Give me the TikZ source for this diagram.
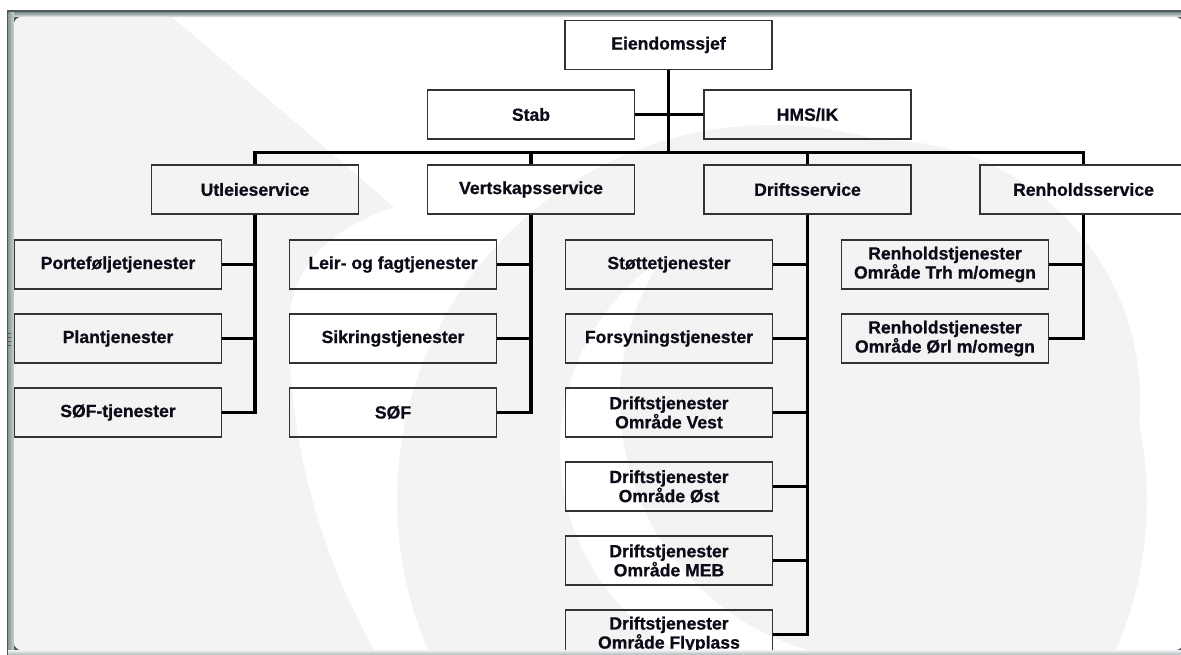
\documentclass[tikz,border=0pt]{standalone}
\usepackage{fontspec}
\setmainfont{Liberation Sans}[BoldFeatures={FakeBold=0.8}]
\definecolor{panel}{HTML}{F3F3F3}
\definecolor{framedark}{HTML}{4E5858}
\definecolor{framemid}{HTML}{9DAFAF}
\definecolor{framelight}{HTML}{C9D5D4}
\definecolor{boxline}{HTML}{333333}
\definecolor{txt}{HTML}{0C0C18}
\begin{document}
\begin{tikzpicture}[x=1pt,y=-1pt,
  orgbox/.style={draw=boxline, line width=1.4pt, minimum width=207pt,
    minimum height=49pt, inner sep=0pt, align=center, text=txt,
    font=\bfseries\fontsize{17.6}{17.7}\selectfont},
  link/.style={draw=black, line width=3.2pt, line join=miter}]

\path[use as bounding box] (0,0) rectangle (1181,655);
\clip (0,0) rectangle (1181,655);

% window frame
\fill[white] (0,0) rectangle (1181,655);
\fill[framedark] (7,10) rectangle (1200,670);
\shade[top color=framemid!85!black, bottom color=framelight!60!white] (9,12.5) rectangle (1200,17);
\shade[left color=framemid!90!black, right color=framelight] (8.5,12.5) rectangle (14,670);

% panel with the faint watermark
\fill[panel, rounded corners=8pt] (14,17) rectangle (1183,650);
\begin{scope}
  \clip[rounded corners=8pt] (14,17) rectangle (1183,650);
  \fill[white] (14,17) rectangle (1183,650);
  \fill[panel] (14,17) -- (172,17) -- (394,207)
     .. controls (322,232) and (288,272) .. (289,332)
     .. controls (290,450) and (322,560) .. (380,660) -- (14,660) -- cycle;
  \fill[panel] (772,500) circle[radius=375];
  \fill[white] (790,450) circle[radius=230];
  \fill[panel] (880,400) circle[radius=260];
\end{scope}

% grips
\foreach \gx in {589,593,597,601} \fill[framedark] (\gx,11) circle[radius=0.7];
\foreach \gy in {333,337,341,345} \fill[framedark] (8,\gy) rectangle (11,\gy+1);

% boxes
\node[orgbox] (chief)   at (668.5,45)    {Eiendomssjef};
\node[orgbox] (stab)    at (531,114.5)   {Stab};
\node[orgbox] (hms)     at (807.5,114.5) {HMS/IK};
\node[orgbox] (utleie)  at (255,189.5)   {Utleieservice};
\node[orgbox] (vert)    at (531,189.5)   {Vertskapsservice};
\node[orgbox] (drift)   at (807.5,189.5) {Driftsservice};
\node[orgbox] (renhold) at (1083.5,189.5) {Renholdsservice};

\node[orgbox] (portef)  at (118,264.5) {Porteføljetjenester};
\node[orgbox] (plan)    at (118,338.5) {Plantjenester};
\node[orgbox] (softj)   at (118,412.5) {SØF-tjenester};

\node[orgbox] (leir)    at (393,264.5) {Leir- og fagtjenester};
\node[orgbox] (sikring) at (393,338.5) {Sikringstjenester};
\node[orgbox] (sof)     at (393,412.5) {SØF};

\node[orgbox] (stotte)  at (669,264.5) {Støttetjenester};
\node[orgbox] (forsyn)  at (669,338.5) {Forsyningstjenester};
\node[orgbox] (vest)    at (669,412.5) {Driftstjenester\\Område Vest};
\node[orgbox] (ost)     at (669,486.5) {Driftstjenester\\Område Øst};
\node[orgbox] (meb)     at (669,560.5) {Driftstjenester\\Område MEB};
\node[orgbox] (fly)     at (669,634.5) {Driftstjenester\\Område Flyplass};

\node[orgbox] (trh)     at (945,264.5) {Renholdstjenester\\Område Trh m/omegn};
\node[orgbox] (orl)     at (945,338.5) {Renholdstjenester\\Område Ørl m/omegn};

% top level connectors
\coordinate (bus) at (668.5,152.5);
\draw[link] (chief.south) -- (bus);
\draw[link] (stab.east) -- (hms.west);
\draw[link] (utleie.north) |- (bus) -| (renhold.north);
\draw[link] (vert.north) -- (vert.north |- bus);
\draw[link] (drift.north) -- (drift.north |- bus);

% Utleieservice
\draw[link] (utleie.south) |- (softj.east);
\draw[link] (portef.east) -- (portef.east -| utleie.south);
\draw[link] (plan.east) -- (plan.east -| utleie.south);

% Vertskapsservice
\draw[link] (vert.south) |- (sof.east);
\draw[link] (leir.east) -- (leir.east -| vert.south);
\draw[link] (sikring.east) -- (sikring.east -| vert.south);

% Driftsservice
\draw[link] (drift.south) |- (fly.east);
\foreach \n in {stotte,forsyn,vest,ost,meb}
  \draw[link] (\n.east) -- (\n.east -| drift.south);

% Renholdsservice
\draw[link] (renhold.south) |- (orl.east);
\draw[link] (trh.east) -- (trh.east -| renhold.south);

% lower edge of the window
\shade[top color=panel, bottom color=framemid] (8,650) rectangle (1200,656);
\end{tikzpicture}
\end{document}
